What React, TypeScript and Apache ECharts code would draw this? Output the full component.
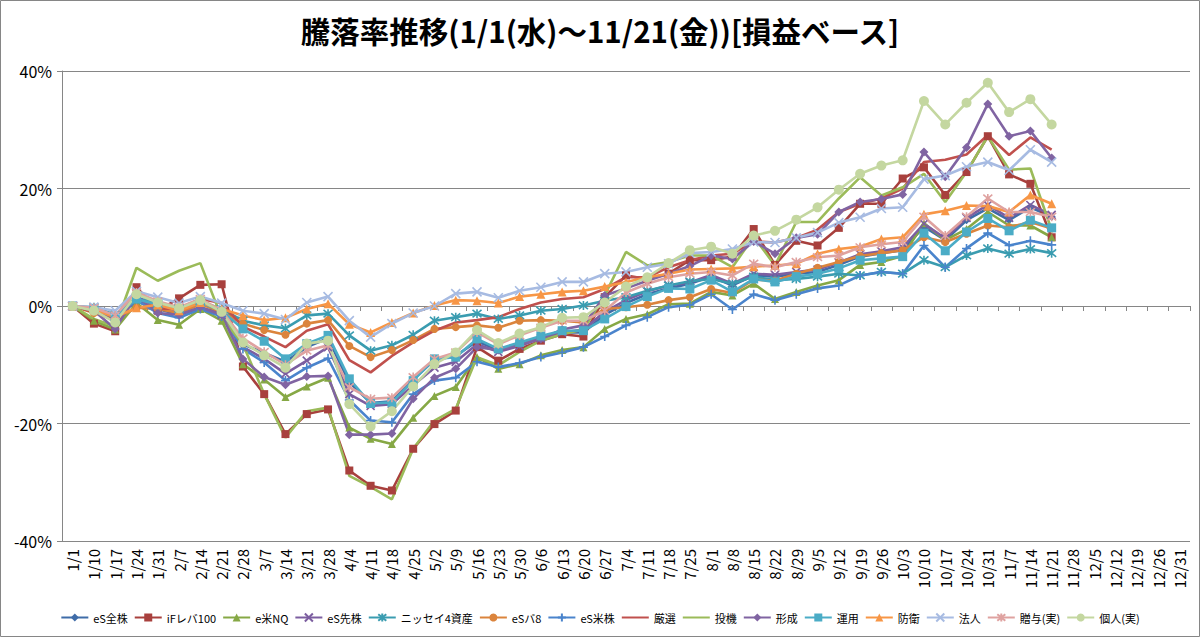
import React, { useEffect, useRef } from "react";
import * as echarts from "echarts";

const TITLE = "騰落率推移(1/1(水)～11/21(金))[損益ベース]";

const categories = [
  "1/1", "1/10", "1/17", "1/24", "1/31", "2/7", "2/14", "2/21", "2/28", "3/7", "3/14", "3/21", "3/28",
  "4/4", "4/11", "4/18", "4/25", "5/2", "5/9", "5/16", "5/23", "5/30", "6/6", "6/13", "6/20", "6/27",
  "7/4", "7/11", "7/18", "7/25", "8/1", "8/8", "8/15", "8/22", "8/29", "9/5", "9/12", "9/19", "9/26",
  "10/3", "10/10", "10/17", "10/24", "10/31", "11/7", "11/14", "11/21", "11/28", "12/5", "12/12",
  "12/19", "12/26", "12/31",
];

const yTicks = [-40, -20, 0, 20, 40];

const eSZenkabu = [0, -0.5, -2.0, 0.8, -0.5, -1.5, -0.3, -1.2, -6.5, -8.0, -9.5, -7.0, -5.5, -13.0, -16.5, -16.2, -12.5, -9.2, -8.5, -6.0, -7.5, -6.5, -5.3, -4.5, -4.5, -1.5, 0.5, 2.0, 3.0, 3.8, 5.0, 3.5, 5.2, 5.0, 5.5, 5.8, 7.0, 8.4, 9.0, 9.5, 13.5, 11.2, 14.6, 16.6, 14.6, 16.8, 15.2];
const iFLev100 = [0, -3.0, -4.3, 3.2, -0.8, 1.3, 3.6, 3.7, -10.3, -15.0, -21.8, -18.4, -17.6, -28.0, -30.6, -31.4, -24.3, -20.1, -17.8, -7.0, -9.3, -7.3, -5.9, -4.8, -5.2, 1.5, 5.2, 4.6, 5.5, 7.8, 7.8, 8.4, 13.1, 7.0, 11.1, 10.3, 13.3, 17.4, 17.4, 21.7, 23.6, 18.9, 22.8, 28.9, 22.4, 20.8, 11.7];
const eBeiNQ = [0, -2.5, -4.0, 0.5, -2.4, -3.2, -0.5, -2.5, -9.9, -12.5, -15.5, -13.7, -12.2, -20.7, -22.6, -23.5, -19.0, -15.3, -13.8, -8.7, -10.7, -9.9, -8.4, -7.5, -7.0, -3.9, -2.2, -1.4, 0.3, 0.4, 2.4, 1.8, 3.8, 1.2, 2.4, 3.5, 4.4, 7.0, 7.5, 8.5, 14.1, 11.2, 13.1, 16.0, 13.7, 13.7, 11.7];
const eSSenkabu = [0, -0.6, -2.5, 2.5, -0.2, -0.8, 0.8, -1.5, -7.0, -9.0, -11.5, -9.3, -7.0, -15.0, -17.0, -16.7, -13.5, -10.5, -9.5, -6.5, -7.8, -6.8, -5.5, -4.5, -4.0, -1.0, 1.0, 2.5, 3.5, 4.0, 5.3, 3.8, 5.5, 5.3, 5.8, 6.2, 7.4, 8.8, 9.3, 10.0, 14.0, 11.5, 15.0, 17.2, 15.0, 17.2, 15.5];
const nissay4 = [0, -0.2, -1.5, 1.5, 0.3, -0.3, 0.8, -0.5, -2.5, -3.3, -3.8, -1.6, -1.3, -5.0, -7.6, -6.7, -4.9, -2.5, -1.9, -1.3, -2.2, -1.6, -0.8, -0.5, 0.1, 0.9, 1.5, 2.6, 3.5, 4.2, 4.6, 3.8, 5.0, 4.4, 4.6, 5.0, 5.5, 5.2, 5.8, 5.5, 7.8, 6.6, 8.6, 9.8, 8.9, 9.7, 9.0];
const eSBal8 = [0, -1.2, -2.2, -0.3, -0.5, -1.2, 0.3, -1.0, -3.0, -4.1, -4.9, -3.0, -2.4, -6.8, -8.7, -7.5, -5.8, -3.9, -3.6, -3.3, -3.7, -2.5, -2.4, -2.5, -2.8, -0.5, -0.2, 0.2, 1.0, 1.5, 2.9, 2.2, 4.5, 4.3, 5.5, 6.5, 7.5, 8.5, 9.0, 9.5, 11.7, 10.9, 12.3, 13.7, 13.4, 14.3, 13.2];
const eSBeikabu = [0, -0.7, -2.4, 1.0, -1.2, -2.0, -0.5, -1.8, -7.3, -9.6, -12.7, -10.5, -8.9, -16.0, -19.5, -19.8, -15.0, -12.7, -12.2, -9.5, -10.4, -9.7, -8.7, -7.9, -7.0, -5.2, -3.3, -1.9, -0.2, 0.2, 2.0, -0.6, 2.0, 1.0, 2.0, 3.0, 3.5, 5.2, 5.8, 5.5, 10.3, 6.6, 9.8, 12.4, 10.3, 11.1, 10.4];
const gensen = [0, -1.0, -2.5, 1.5, -0.5, -0.4, 1.2, 0.5, -3.5, -5.2, -7.0, -4.2, -3.1, -9.2, -11.3, -8.5, -6.2, -4.2, -2.8, -2.4, -1.9, -0.5, 0.6, 1.2, 1.5, 2.9, 4.9, 4.9, 6.6, 7.8, 8.6, 8.9, 11.0, 10.8, 11.6, 13.0, 16.0, 17.4, 18.3, 20.0, 24.5, 24.9, 25.8, 29.1, 25.7, 28.7, 26.6];
const touki = [0, -2.2, -3.5, 6.5, 4.3, 6.0, 7.3, -2.0, -6.5, -15.0, -22.4, -17.9, -17.3, -28.9, -30.8, -32.9, -24.3, -19.5, -17.5, -8.7, -10.1, -7.8, -5.9, -4.8, -4.0, 1.8, 9.2, 6.9, 7.5, 8.6, 8.6, 6.6, 11.8, 6.9, 14.3, 14.3, 18.3, 21.9, 18.8, 20.2, 22.5, 17.7, 22.8, 28.9, 23.2, 23.4, 12.9];
const keisei = [0, -0.8, -3.9, 1.8, -1.2, -1.5, -0.2, -1.5, -9.0, -12.1, -13.4, -12.0, -11.9, -21.9, -21.9, -21.7, -15.8, -12.2, -10.7, -7.0, -7.5, -6.5, -5.6, -4.0, -3.3, 1.8, 3.0, 4.3, 5.5, 6.8, 8.6, 8.0, 11.0, 8.9, 11.6, 12.2, 16.0, 17.7, 18.2, 19.0, 26.2, 22.0, 27.0, 34.4, 28.9, 29.8, 25.2];
const unyou = [0, -0.4, -1.8, 1.2, 0.2, -0.5, 0.6, -0.8, -3.9, -6.0, -9.0, -6.4, -5.0, -12.4, -16.6, -16.4, -12.7, -9.0, -8.7, -5.6, -7.3, -6.2, -5.1, -4.2, -4.2, -2.2, -0.1, 1.6, 3.0, 2.9, 4.4, 2.4, 4.6, 4.1, 5.0, 5.5, 6.4, 7.8, 8.1, 8.4, 12.4, 9.4, 12.6, 14.9, 12.8, 14.6, 13.3];
const bouei = [0, -0.6, -1.9, -0.3, 0.2, -0.8, 0.6, -0.5, -1.6, -2.4, -2.0, -0.5, 0.4, -3.1, -4.5, -2.8, -1.2, 0.1, 1.0, 0.9, 0.5, 1.6, 2.0, 2.4, 2.6, 3.3, 4.1, 4.9, 5.5, 6.2, 6.3, 6.4, 6.7, 6.9, 7.2, 8.9, 9.7, 10.1, 11.4, 11.7, 15.6, 16.2, 17.1, 17.0, 16.0, 18.9, 17.4];
const houjin = [0, -0.2, -0.8, 2.5, 1.5, 0.5, 1.6, 0.5, -0.8, -1.3, -2.3, 0.6, 1.6, -2.5, -5.3, -3.0, -1.2, 0.0, 2.1, 2.4, 1.4, 2.6, 3.2, 4.1, 4.1, 5.5, 5.8, 6.6, 7.2, 9.0, 9.2, 9.7, 10.9, 10.8, 11.6, 12.5, 14.2, 15.1, 16.6, 16.8, 21.6, 22.2, 23.7, 24.5, 23.1, 26.6, 24.5];
const zouyo = [0, -0.3, -1.6, 2.3, 0.8, -0.2, 1.2, -0.8, -5.5, -7.8, -10.0, -7.6, -6.7, -13.8, -15.8, -15.6, -12.1, -9.0, -7.9, -4.5, -6.5, -5.0, -3.7, -2.5, -2.5, -0.8, 2.3, 3.8, 4.9, 5.5, 5.8, 5.2, 7.2, 6.6, 7.5, 8.3, 8.6, 10.0, 10.5, 10.9, 15.2, 12.0, 15.2, 18.3, 16.0, 16.0, 15.2];
const kojin = [0, -0.8, -2.8, 2.0, 0.6, -0.4, 1.0, -1.0, -6.2, -8.4, -10.5, -6.4, -5.9, -16.7, -20.5, -17.9, -13.7, -9.9, -7.9, -4.1, -6.3, -4.7, -3.6, -2.0, -1.9, 0.6, 3.3, 4.9, 7.3, 9.5, 10.1, 8.9, 12.0, 12.8, 14.7, 16.8, 19.8, 22.5, 23.9, 24.8, 34.9, 30.9, 34.6, 38.0, 33.0, 35.2, 30.9];

const seriesNames = ["eS全株", "iFレバ100", "e米NQ", "eS先株", "ニッセイ4資産", "eSバ8", "eS米株", "厳選", "投機", "形成", "運用", "防衛", "法人", "贈与(実)", "個人(実)"];
const seriesData = [eSZenkabu, iFLev100, eBeiNQ, eSSenkabu, nissay4, eSBal8, eSBeikabu, gensen, touki, keisei, unyou, bouei, houjin, zouyo, kojin];

const X_SYM = "path://M0,0L10,10M10,0L0,10";
const STAR_SYM = "path://M0,0L10,10M10,0L0,10M5,-1L5,11";
const PLUS_SYM = "path://M5,0L5,10M0,5L10,5";

const styles = [
  { color: "#3F6CA8", symbol: "diamond", size: 8, stroke: false },
  { color: "#A8403D", symbol: "rect", size: 8, stroke: false },
  { color: "#86A845", symbol: "triangle", size: 8, stroke: false },
  { color: "#7C5EA0", symbol: X_SYM, size: 8, stroke: true },
  { color: "#3A9CB0", symbol: STAR_SYM, size: 9, stroke: true },
  { color: "#DB843C", symbol: "circle", size: 8, stroke: false },
  { color: "#4A84CC", symbol: PLUS_SYM, size: 9, stroke: true },
  { color: "#C0504D", symbol: "none", size: 0, stroke: false },
  { color: "#9BBB59", symbol: "none", size: 0, stroke: false },
  { color: "#8064A2", symbol: "diamond", size: 9, stroke: false },
  { color: "#4BACC6", symbol: "rect", size: 9, stroke: false },
  { color: "#F79646", symbol: "triangle", size: 9, stroke: false },
  { color: "#A7BBE2", symbol: X_SYM, size: 9, stroke: true },
  { color: "#DFA2A0", symbol: STAR_SYM, size: 9, stroke: true },
  { color: "#C4D7A0", symbol: "circle", size: 10, stroke: false },
];

const FONT = "'Noto Sans CJK JP', 'Noto Sans', sans-serif";

export default function App() {
  const ref = useRef<HTMLDivElement>(null);

  useEffect(() => {
    if (!ref.current) return;
    const chart = echarts.init(ref.current, undefined, { renderer: "svg" });

    const series = seriesNames.map((name, i) => {
      const s = styles[i];
      return {
        name,
        type: "line",
        xAxisIndex: 0,
        yAxisIndex: 0,
        data: seriesData[i],
        symbol: s.symbol,
        symbolSize: s.size,
        showSymbol: s.symbol !== "none",
        lineStyle: { color: s.color, width: 2.6 },
        itemStyle: {
          color: s.color,
          borderColor: s.color,
          borderWidth: s.stroke ? 1.6 : 0,
        },
        emphasis: { disabled: true },
      };
    });

    const legendData = seriesNames.map((name, i) =>
      styles[i].symbol === "none" ? { name, itemStyle: { opacity: 0 } } : { name }
    );

    chart.setOption({
      animation: false,
      backgroundColor: "#ffffff",
      title: {
        text: TITLE,
        left: "center",
        top: 10,
        textStyle: { fontFamily: FONT, fontSize: 29.5, fontWeight: "bold", color: "#000" },
      },
      legend: {
        data: legendData,
        top: 607,
        left: "center",
        itemWidth: 27,
        itemHeight: 10,
        itemGap: 6,
        textStyle: { fontFamily: FONT, fontSize: 11, color: "#000" },
      },
      grid: { left: 62, right: 10, top: 71, bottom: 96, containLabel: false },
      xAxis: [
        {
          type: "category",
          data: categories,
          position: "bottom",
          boundaryGap: true,
          axisLine: { show: true, onZero: true, lineStyle: { color: "#868686", width: 1 } },
          axisTick: { show: true, interval: 0, length: 5, lineStyle: { color: "#868686" } },
          axisLabel: { show: false },
          splitLine: { show: false },
        },
        {
          type: "category",
          data: categories,
          position: "bottom",
          boundaryGap: true,
          axisLine: { show: false, onZero: false },
          axisTick: { show: false },
          axisLabel: {
            show: true,
            interval: 0,
            rotate: 90,
            margin: 8,
            fontFamily: FONT,
            fontSize: 15,
            color: "#000",
          },
          splitLine: { show: false },
        },
      ],
      yAxis: {
        type: "value",
        min: yTicks[0],
        max: yTicks[yTicks.length - 1],
        interval: 20,
        axisLine: { show: true, lineStyle: { color: "#868686", width: 1 } },
        axisTick: { show: true, length: 5, lineStyle: { color: "#868686" } },
        axisLabel: { formatter: "{value}%", fontFamily: FONT, fontSize: 16, color: "#000", margin: 10 },
        splitLine: { show: true, lineStyle: { color: "#868686", width: 1 } },
      },
      graphic: [
        {
          type: "rect",
          shape: { x: 0.5, y: 0.5, width: 1199, height: 636 },
          style: { fill: "none", stroke: "#868686", lineWidth: 1 },
          silent: true,
        },
      ],
      series,
    });

    return () => chart.dispose();
  }, []);

  return (
    <div style={{ position: "fixed", left: 0, top: 0, width: 1200, height: 637, background: "#fff" }}>
      <div ref={ref} style={{ width: 1200, height: 637 }} />
    </div>
  );
}
